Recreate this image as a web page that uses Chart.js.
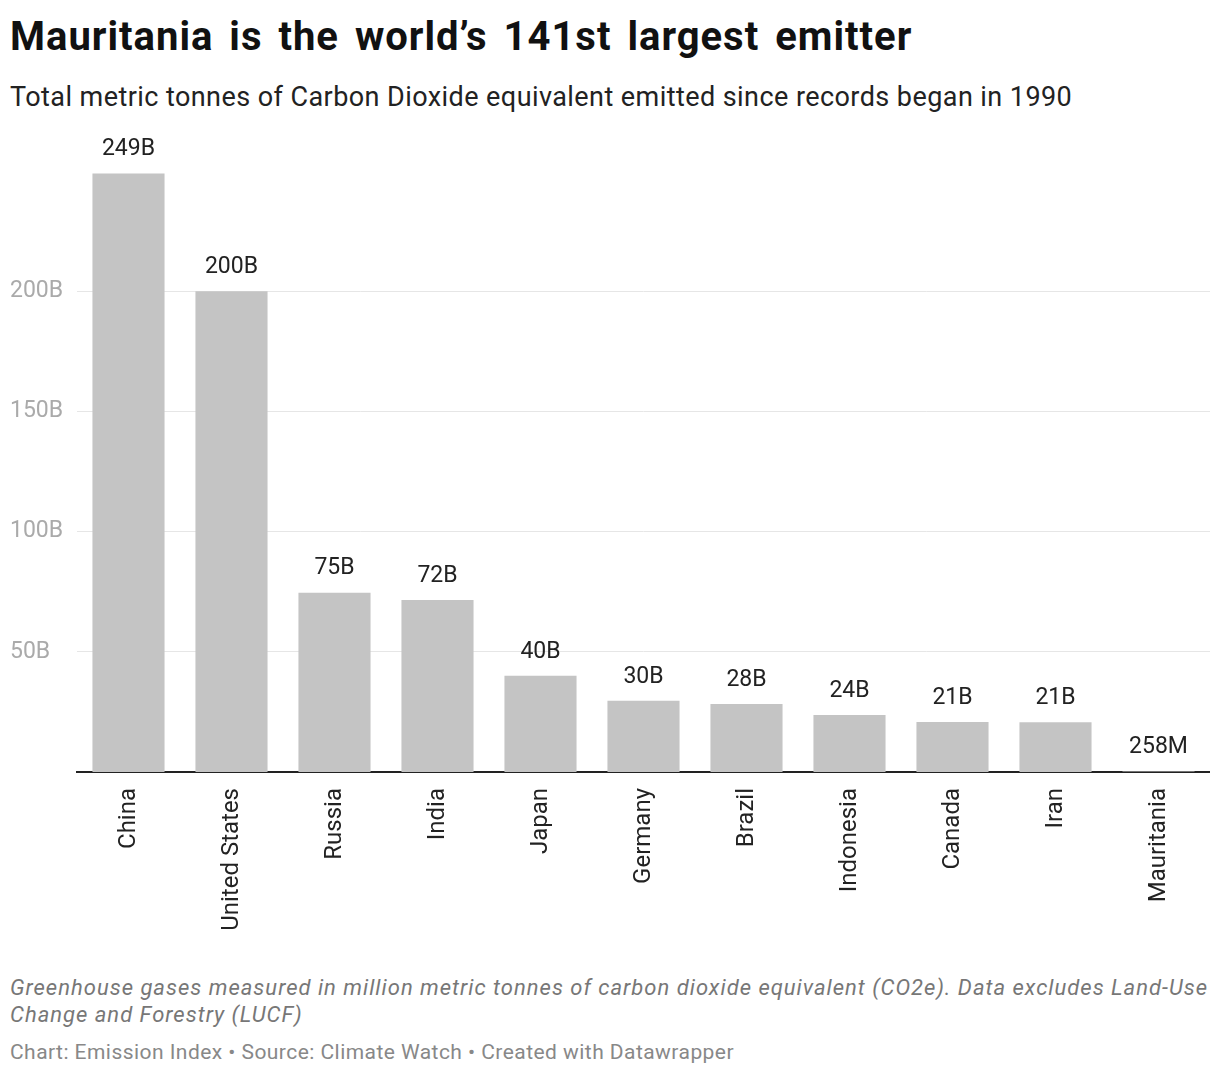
<!DOCTYPE html>
<html>
<head>
<meta charset="utf-8">
<script src="https://cdn.jsdelivr.net/npm/chart.js@4"></script>
<style>
  body { margin: 0; width: 1220px; height: 1078px; background: #fff; font-family: Roboto, sans-serif; position: relative; overflow: hidden; }
  .txt { position: absolute; left: 10px; white-space: nowrap; }
  #title { top: 13px; font-size: 40px; line-height: 48px; font-weight: 700; color: #111; letter-spacing: 1px; word-spacing: 5px; }
  #subtitle { top: 80px; font-size: 27px; line-height: 34px; color: #222; letter-spacing: 0.43px; }
  #wrap { position: absolute; left: 10px; top: 120px; width: 1200px; height: 822px; }
  #notes { top: 974px; font-size: 22px; line-height: 27px; color: #777; font-style: italic; letter-spacing: 1px; }
  #credit { top: 1040px; font-size: 21px; line-height: 24px; color: #888; letter-spacing: 0.45px; }
</style>
</head>
<body>
<div id="title" class="txt">Mauritania is the world’s 141st largest emitter</div>
<div id="subtitle" class="txt">Total metric tonnes of Carbon Dioxide equivalent emitted since records began in 1990</div>
<div id="wrap"><canvas id="chart"></canvas></div>
<div id="notes" class="txt">Greenhouse gases measured in million metric tonnes of carbon dioxide equivalent (CO2e). Data excludes Land-Use<br>Change and Forestry (LUCF)</div>
<div id="credit" class="txt">Chart: Emission Index • Source: Climate Watch • Created with Datawrapper</div>
<script>
const countries = ['China', 'United States', 'Russia', 'India', 'Japan', 'Germany', 'Brazil', 'Indonesia', 'Canada', 'Iran', 'Mauritania'];
// billions of tonnes CO2e
const emissions = [249, 200, 74.6, 71.6, 40, 29.6, 28.3, 23.7, 20.8, 20.7, 0.258];
const yTicks = [50, 100, 150, 200];

const fmt = v => v >= 1 ? Math.round(v) + 'B' : Math.round(v * 1000) + 'M';

const valueLabels = {
  id: 'valueLabels',
  afterDatasetsDraw(chart) {
    const { ctx } = chart;
    const meta = chart.getDatasetMeta(0);
    ctx.save();
    ctx.font = '23px Roboto';
    ctx.fillStyle = '#222';
    ctx.textAlign = 'center';
    ctx.textBaseline = 'middle';
    meta.data.forEach((bar, i) => {
      ctx.fillText(fmt(emissions[i]), bar.x, bar.y - 24);
    });
    ctx.restore();
  }
};

new Chart(document.getElementById('chart'), {
  type: 'bar',
  data: {
    labels: countries,
    datasets: [{
      data: emissions,
      backgroundColor: '#c4c4c4',
      categoryPercentage: 1,
      barPercentage: 0.7
    }]
  },
  options: {
    responsive: true,
    maintainAspectRatio: false,
    animation: false,
    layout: { padding: { top: 27 } },
    plugins: {
      legend: { display: false },
      tooltip: { enabled: false }
    },
    scales: {
      x: {
        grid: { display: false },
        border: { display: true, color: '#222', width: 2 },
        ticks: {
          color: '#222',
          font: { family: 'Roboto', size: 24 },
          maxRotation: 90,
          minRotation: 90,
          padding: 8,
          autoSkip: false
        },
        afterFit: s => { s.height = 170; }
      },
      y: {
        min: 0,
        max: 260,
        grid: { color: '#e6e6e6', drawTicks: false },
        border: { display: false },
        ticks: {
          stepSize: 50,
          includeBounds: false,
          color: '#aaa',
          font: { family: 'Roboto', size: 23 },
          crossAlign: 'far',
          padding: 0,
          callback: v => v + 'B'
        },
        afterBuildTicks: s => { s.ticks = yTicks.map(v => ({ value: v })); },
        afterFit: s => { s.width = 67; }
      }
    }
  },
  plugins: [valueLabels]
});
</script>
</body>
</html>
